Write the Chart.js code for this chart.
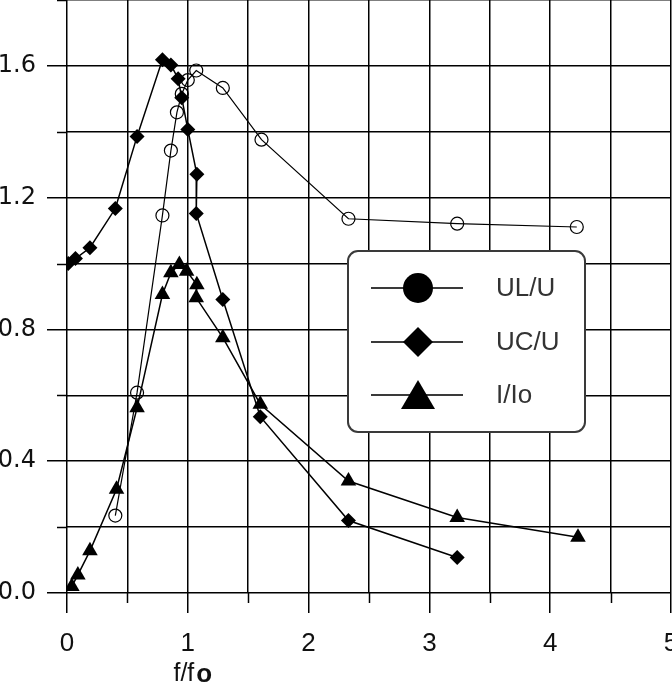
<!DOCTYPE html>
<html>
<head>
<meta charset="utf-8">
<script src="https://cdn.jsdelivr.net/npm/chart.js@4"></script>
<style>
  body { margin: 0; background: #fff; }
  canvas { display: block; }
</style>
</head>
<body>
<canvas id="chart" width="672" height="689"></canvas>
<script>
// values
const ulX = [0.40, 0.58, 0.79, 0.86, 0.91, 0.95, 1.00, 1.07, 1.29, 1.61, 2.33, 3.23, 4.22];
const ulY = [0.235, 0.608, 1.146, 1.343, 1.459, 1.515, 1.557, 1.586, 1.533, 1.376, 1.136, 1.121, 1.111];

const ucX = [0.01, 0.07, 0.19, 0.40, 0.58, 0.79, 0.86, 0.92, 0.95, 1.00, 1.075, 1.07, 1.29, 1.60, 2.33, 3.23];
const ucY = [1.00, 1.015, 1.048, 1.167, 1.386, 1.619, 1.603, 1.561, 1.503, 1.407, 1.271, 1.152, 0.891, 0.535, 0.220, 0.108];

const iX = [0.04, 0.09, 0.19, 0.41, 0.58, 0.79, 0.86, 0.93, 0.99, 1.075, 1.07, 1.29, 1.60, 2.33, 3.23, 4.23];
const iY = [0.020, 0.055, 0.128, 0.315, 0.562, 0.906, 0.972, 0.997, 0.977, 0.936, 0.896, 0.775, 0.573, 0.340, 0.229, 0.169];

const seriesLabels = ["UL/U", "UC/U", "I/Io"];
const xTicks = [0, 1, 2, 3, 4, 5];
const yTicks = [0.0, 0.4, 0.8, 1.2, 1.6];

const toPoints = (xs, ys) => xs.map((x, i) => ({ x: x, y: ys[i] }));
const isLabeled = (list, v) => list.some(t => Math.abs(t - v) < 1e-6);

// short ticks for the unlabeled grid lines + legend box + axis title
const extras = {
  id: "extras",
  afterDraw(chart) {
    const ctx = chart.ctx;
    const xs = chart.scales.x, ys = chart.scales.y;
    const area = chart.chartArea;
    ctx.save();
    ctx.strokeStyle = "#000";
    ctx.lineWidth = 1.5;
    xs.ticks.forEach(t => {
      if (isLabeled(xTicks, t.value)) return;
      const px = Math.round(xs.getPixelForValue(t.value)) + 0.5;
      ctx.beginPath();
      ctx.moveTo(px, area.bottom);
      ctx.lineTo(px, area.bottom + 10);
      ctx.stroke();
    });
    ys.ticks.forEach(t => {
      if (isLabeled(yTicks, t.value)) return;
      const py = Math.round(ys.getPixelForValue(t.value)) + 0.5;
      ctx.beginPath();
      ctx.moveTo(area.left - 10, py);
      ctx.lineTo(area.left, py);
      ctx.stroke();
    });

    // legend
    const bx = 348, by = 251, bw = 237, bh = 181, r = 10;
    ctx.beginPath();
    ctx.roundRect(bx, by, bw, bh, r);
    ctx.fillStyle = "#fff";
    ctx.fill();
    ctx.strokeStyle = "#3a3a3a";
    ctx.lineWidth = 2;
    ctx.stroke();

    const rows = [288, 342, 395];
    chart.data.datasets.forEach((ds, i) => {
      const y = rows[i];
      ctx.strokeStyle = "#3a3a3a";
      ctx.lineWidth = 2;
      ctx.beginPath();
      ctx.moveTo(371, y);
      ctx.lineTo(463, y);
      ctx.stroke();
      ctx.fillStyle = "#000";
      const cx = 418;
      ctx.beginPath();
      if (ds.pointStyle === "circle") {
        ctx.arc(cx, y, 15, 0, Math.PI * 2);
      } else if (ds.pointStyle === "rectRot") {
        ctx.moveTo(cx, y - 15);
        ctx.lineTo(cx + 15, y);
        ctx.lineTo(cx, y + 15);
        ctx.lineTo(cx - 15, y);
        ctx.closePath();
      } else {
        ctx.moveTo(cx, y - 15);
        ctx.lineTo(cx + 17, y + 14);
        ctx.lineTo(cx - 17, y + 14);
        ctx.closePath();
      }
      ctx.fill();
      ctx.fillStyle = "#333";
      ctx.font = "26px 'Liberation Sans'";
      ctx.textAlign = "left";
      ctx.textBaseline = "middle";
      ctx.fillText(ds.label, 496, y + 1);
    });

    // axis title f/fo, last letter bold
    ctx.fillStyle = "#111";
    ctx.textBaseline = "middle";
    ctx.textAlign = "left";
    ctx.font = "25px 'Liberation Sans'";
    const a = "f/f";
    const wa = ctx.measureText(a).width;
    ctx.font = "bold 26px 'Liberation Sans'";
    const wb = ctx.measureText("o").width;
    const start = xs.getPixelForValue(1) + 4 - (wa + wb) / 2;
    ctx.font = "25px 'Liberation Sans'";
    ctx.fillText(a, start, 674);
    ctx.font = "bold 26px 'Liberation Sans'";
    ctx.fillText("o", start + wa + 2, 675);
    ctx.restore();
  }
};

const gridColor = "#000";
const tickCol = (list) => (c) => (c.tick && isLabeled(list, c.tick.value)) ? "#000" : "rgba(0,0,0,0)";

new Chart(document.getElementById("chart"), {
  type: "line",
  data: {
    datasets: [
      {
        label: seriesLabels[0],
        data: toPoints(ulX, ulY),
        borderColor: "#000",
        borderWidth: 1.2,
        pointStyle: "circle",
        pointRadius: 6.5,
        pointBorderWidth: 1.2,
        pointBorderColor: "#000",
        pointBackgroundColor: "rgba(0,0,0,0)",
        tension: 0
      },
      {
        label: seriesLabels[1],
        data: toPoints(ucX, ucY),
        borderColor: "#000",
        borderWidth: 1.5,
        pointStyle: "rectRot",
        pointRadius: 7.5,
        pointBorderWidth: 0,
        pointBackgroundColor: "#000",
        tension: 0
      },
      {
        label: seriesLabels[2],
        data: toPoints(iX, iY),
        borderColor: "#000",
        borderWidth: 1.5,
        pointStyle: "triangle",
        pointRadius: 9,
        pointBorderWidth: 0,
        pointBackgroundColor: "#000",
        tension: 0
      }
    ]
  },
  options: {
    responsive: false,
    devicePixelRatio: 1,
    animation: false,
    layout: { autoPadding: false, padding: { left: 0, right: 1, top: 0, bottom: 0 } },
    plugins: { legend: { display: false }, tooltip: { enabled: false } },
    scales: {
      x: {
        type: "linear",
        min: 0,
        max: 5,
        border: { display: false },
        grid: { color: gridColor, lineWidth: 1.5, tickLength: 20, tickColor: tickCol(xTicks), tickWidth: 1.5 },
        ticks: {
          stepSize: 0.5,
          autoSkip: false,
          maxRotation: 0,
          padding: 15,
          color: "#111",
          font: { family: "'Liberation Sans'", size: 26 },
          callback: v => isLabeled(xTicks, v) ? String(Math.round(v)) : ""
        },
        afterFit: s => { s.height = 96; s.paddingLeft = 0; s.paddingRight = 0; }
      },
      y: {
        min: 0,
        max: 1.8,
        border: { display: false },
        grid: { color: gridColor, lineWidth: 1.5, tickLength: 20, tickColor: tickCol(yTicks), tickWidth: 1.5 },
        ticks: {
          stepSize: 0.2,
          autoSkip: false,
          padding: 11,
          color: "#111",
          font: { family: "'DejaVu Sans'", size: 24 },
          callback: v => isLabeled(yTicks, v) ? v.toFixed(1) : ""
        },
        afterFit: s => { s.width = 67; s.paddingTop = 0; s.paddingBottom = 0; }
      }
    }
  },
  plugins: [extras]
});
</script>
</body>
</html>
